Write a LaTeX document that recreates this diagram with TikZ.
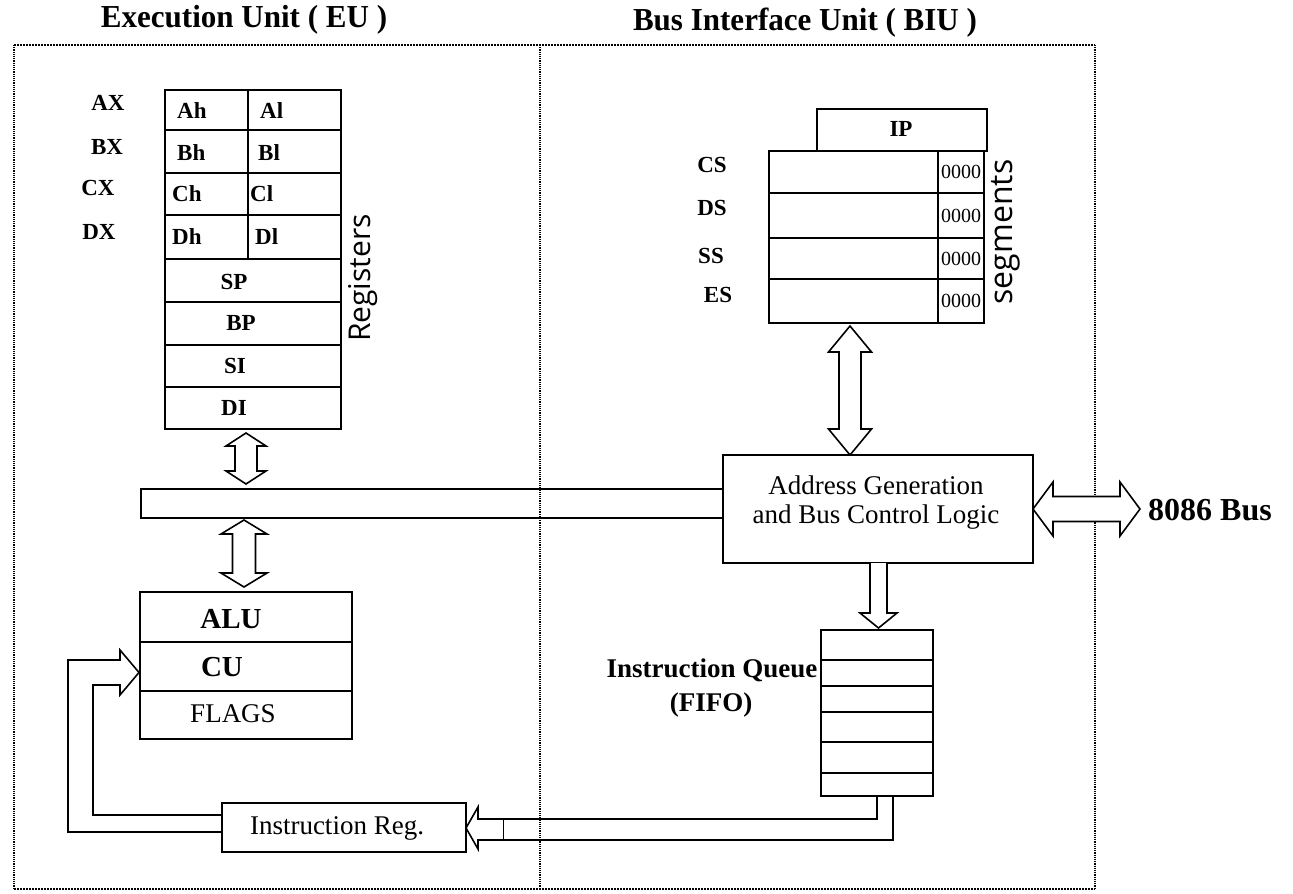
\documentclass[tikz,border=0pt]{standalone}
\usepackage{fontspec}
\setmainfont{Liberation Serif}
\newfontfamily\handfont{Open Sans}
\usetikzlibrary{calc}
\newcommand\cellbox[6][box]{\node[#1,minimum width={(#5-#3)*1pt},minimum height={(#6-#4)*1pt}] (#2) at (#3,#4) {};}
\newcommand\vdarrow[5]{%
\draw[fat] let \p1=#1, \p2=#2 in
 (\x1,\y1) -- (\x1+#3,\y1-#5) -- (\x1+#4,\y1-#5) -- (\x1+#4,\y2+#5) -- (\x1+#3,\y2+#5) -- (\x1,\y2)
 -- (\x1-#3,\y2+#5) -- (\x1-#4,\y2+#5) -- (\x1-#4,\y1-#5) -- (\x1-#3,\y1-#5) -- cycle;}
\begin{document}
\begin{tikzpicture}[x=1pt,y=-1pt,
 box/.style={draw,line width=2.4pt,outer sep=0pt,inner sep=0pt,anchor=north west},
 tbox/.style={draw,line width=1.3pt,outer sep=0pt,inner sep=0pt,anchor=north west},
 fat/.style={draw,line width=1.6pt,fill=white,line join=miter,miter limit=20},
 ttl/.style={font=\fontsize{32}{36}\selectfont\bfseries,inner sep=0pt,xscale=0.97},
 rl/.style={font=\fontsize{23}{26}\selectfont\bfseries,inner sep=0pt},
 big/.style={font=\fontsize{29}{32}\selectfont\bfseries,inner sep=0pt},
 pl/.style={font=\fontsize{27}{29}\selectfont,inner sep=0pt},
 bl/.style={font=\fontsize{27}{30}\selectfont\bfseries,inner sep=0pt},
 zero/.style={font=\fontsize{20}{22}\selectfont,inner sep=0pt},
 hand/.style={font=\handfont\fontsize{30}{32}\selectfont,inner sep=0pt},
 frameh/.style={densely dotted,line width=2pt},
 framev/.style={densely dotted,line width=1.2pt}]
\useasboundingbox (0,0) rectangle (1293,894);
\fill[white] (0,0) rectangle (1293,894);
% frame
\draw[frameh] (14,45) -- (1095,45);
\draw[frameh] (14,889) -- (1095,889);
\draw[framev] (14,45) -- (14,889);
\draw[framev] (1095,45) -- (1095,889);
\draw[framev] (540,45) -- (540,889);
% titles
\node[ttl] (teu) at (244,20) {Execution Unit ( EU )};
\node[ttl] (tbiu) at (805,23) {Bus Interface Unit ( BIU )};
% registers
\cellbox{ah}{165}{90}{248}{130}
\cellbox{al}{248}{90}{341}{130}
\cellbox{bh}{165}{130}{248}{173}
\cellbox{bl}{248}{130}{341}{173}
\cellbox{ch}{165}{173}{248}{215}
\cellbox{cl}{248}{173}{341}{215}
\cellbox{dh}{165}{215}{248}{259}
\cellbox{dl}{248}{215}{341}{259}
\cellbox{sp}{165}{259}{341}{302}
\cellbox{bp}{165}{302}{341}{345}
\cellbox{si}{165}{345}{341}{387}
\cellbox{di}{165}{387}{341}{429}
\node[rl] at (108,103) {AX};
\node[rl] at (107,147) {BX};
\node[rl] at (98,188) {CX};
\node[rl] at (99,232) {DX};
\node[rl,anchor=west] at (177,111) {Ah};
\node[rl,anchor=west] at (260,111) {Al};
\node[rl,anchor=west] at (177,153) {Bh};
\node[rl,anchor=west] at (258,153) {Bl};
\node[rl,anchor=west] at (172,194) {Ch};
\node[rl,anchor=west] at (250,194) {Cl};
\node[rl,anchor=west] at (172,237) {Dh};
\node[rl,anchor=west] at (255,237) {Dl};
\node[rl] at (234,282) {SP};
\node[rl] at (241,323) {BP};
\node[rl] at (235,366) {SI};
\node[rl] at (234,408) {DI};
\node[hand,rotate=90] at (363,278) {Registers};
% internal bus
\cellbox{bus}{141}{489}{723}{518}
% ALU block
\cellbox{alu}{140}{592}{352}{642}
\cellbox{cu}{140}{642}{352}{691}
\cellbox{flags}{140}{691}{352}{739}
\node[big] at (231,619) {ALU};
\node[big] at (222,667) {CU};
\node[pl] at (233,714) {FLAGS};
% BIU
\cellbox{ip}{817}{109}{987}{151}
\node[rl] at (901,129) {IP};
\cellbox{cs}{769}{151}{938}{193}
\cellbox{ds}{769}{193}{938}{238}
\cellbox{ss}{769}{238}{938}{279}
\cellbox{es}{769}{279}{938}{323}
\cellbox[tbox]{csv}{938}{151}{984}{193}
\cellbox[tbox]{dsv}{938}{193}{984}{238}
\cellbox[tbox]{ssv}{938}{238}{984}{279}
\cellbox[tbox]{esv}{938}{279}{984}{323}
\node[zero] at (csv) {0000};
\node[zero] at (dsv) {0000};
\node[zero] at (ssv) {0000};
\node[zero] at (esv) {0000};
\node[rl] at (712,165) {CS};
\node[rl] at (712,208) {DS};
\node[rl] at (711,256) {SS};
\node[rl] at (718,295) {ES};
\node[hand,rotate=90,font=\handfont\fontsize{32}{34}\selectfont] at (1006,232) {segments};
\cellbox{agb}{723}{455}{1033}{563}
\node[pl,align=center] at (876,503) {Address Generation\\and Bus Control Logic};
% queue
\cellbox{q1}{821}{630}{933}{660}
\cellbox{q2}{821}{660}{933}{686}
\cellbox{q3}{821}{686}{933}{712}
\cellbox{q4}{821}{712}{933}{742}
\cellbox{q5}{821}{742}{933}{773}
\cellbox{q6}{821}{773}{933}{796}
\node[bl] at (712,670) {Instruction Queue};
\node[bl] at (711,705) {(FIFO)};
% instruction register
\cellbox{ir}{222}{803}{466}{852}
\node[pl] at (337,828) {Instruction Reg.};
% fat arrows
\vdarrow{($(di.south)+(-7,4)$)}{($(bus.north)+(0,-5)$)}{20pt}{11pt}{13pt}
\vdarrow{($(bus.south west)+(103,2)$)}{($(alu.north)+(0,-5)$)}{23pt}{11.5pt}{14pt}
\vdarrow{($(es.south west)+(81,3)$)}{(agb.north)}{21.5pt}{11pt}{26pt}
\draw[fat] let \p1=($(agb.south west)+(155.5,0)$), \p2=(q1.north) in
 (\x1-8.5pt,\y1) -- (\x1-8.5pt,\y2+17pt) -- (\x1-18.5pt,\y2+17pt) -- (\x1,\y2+2pt)
 -- (\x1+18.5pt,\y2+17pt) -- (\x1+8.5pt,\y2+17pt) -- (\x1+8.5pt,\y1);
\coordinate (busend) at (1140,510);
\draw[fat] let \p1=(agb.east), \p2=(busend) in
 (\x1,\y1) -- (\x1+20pt,\y1+27pt) -- (\x1+20pt,\y1+12.5pt) -- (\x2-20pt,\y1+12.5pt) -- (\x2-20pt,\y1+27pt)
 -- (\x2,\y1) -- (\x2-20pt,\y1-27pt) -- (\x2-20pt,\y1-12.5pt) -- (\x1+20pt,\y1-12.5pt) -- (\x1+20pt,\y1-27pt) -- cycle;
\node[font=\fontsize{32}{36}\selectfont\bfseries,inner sep=0pt,anchor=west] at (1148,510) {8086 Bus};
% feedback IR -> CU
\draw[fat,fill=none] ($(ir.west)+(0,4.5)$) -- (68,832) -- (68,660) -- (120,660) -- (120,650)
 -- ($(cu.west)+(-1,6)$) -- (120,695) -- (120,685) -- (93,685) -- (93,815) -- ($(ir.west)+(0,-12.5)$);
% queue -> IR
\draw[fat,fill=none] ($(q6.south west)+(72,0)$) -- (893,840) -- (478,840) -- (478,849)
 -- ($(ir.east)+(0,0.5)$) -- (478,807) -- (478,819) -- (877,819) -- ($(q6.south west)+(56,0)$);
\draw[line width=1pt] (503,819) -- (503,840);
\end{tikzpicture}
\end{document}
